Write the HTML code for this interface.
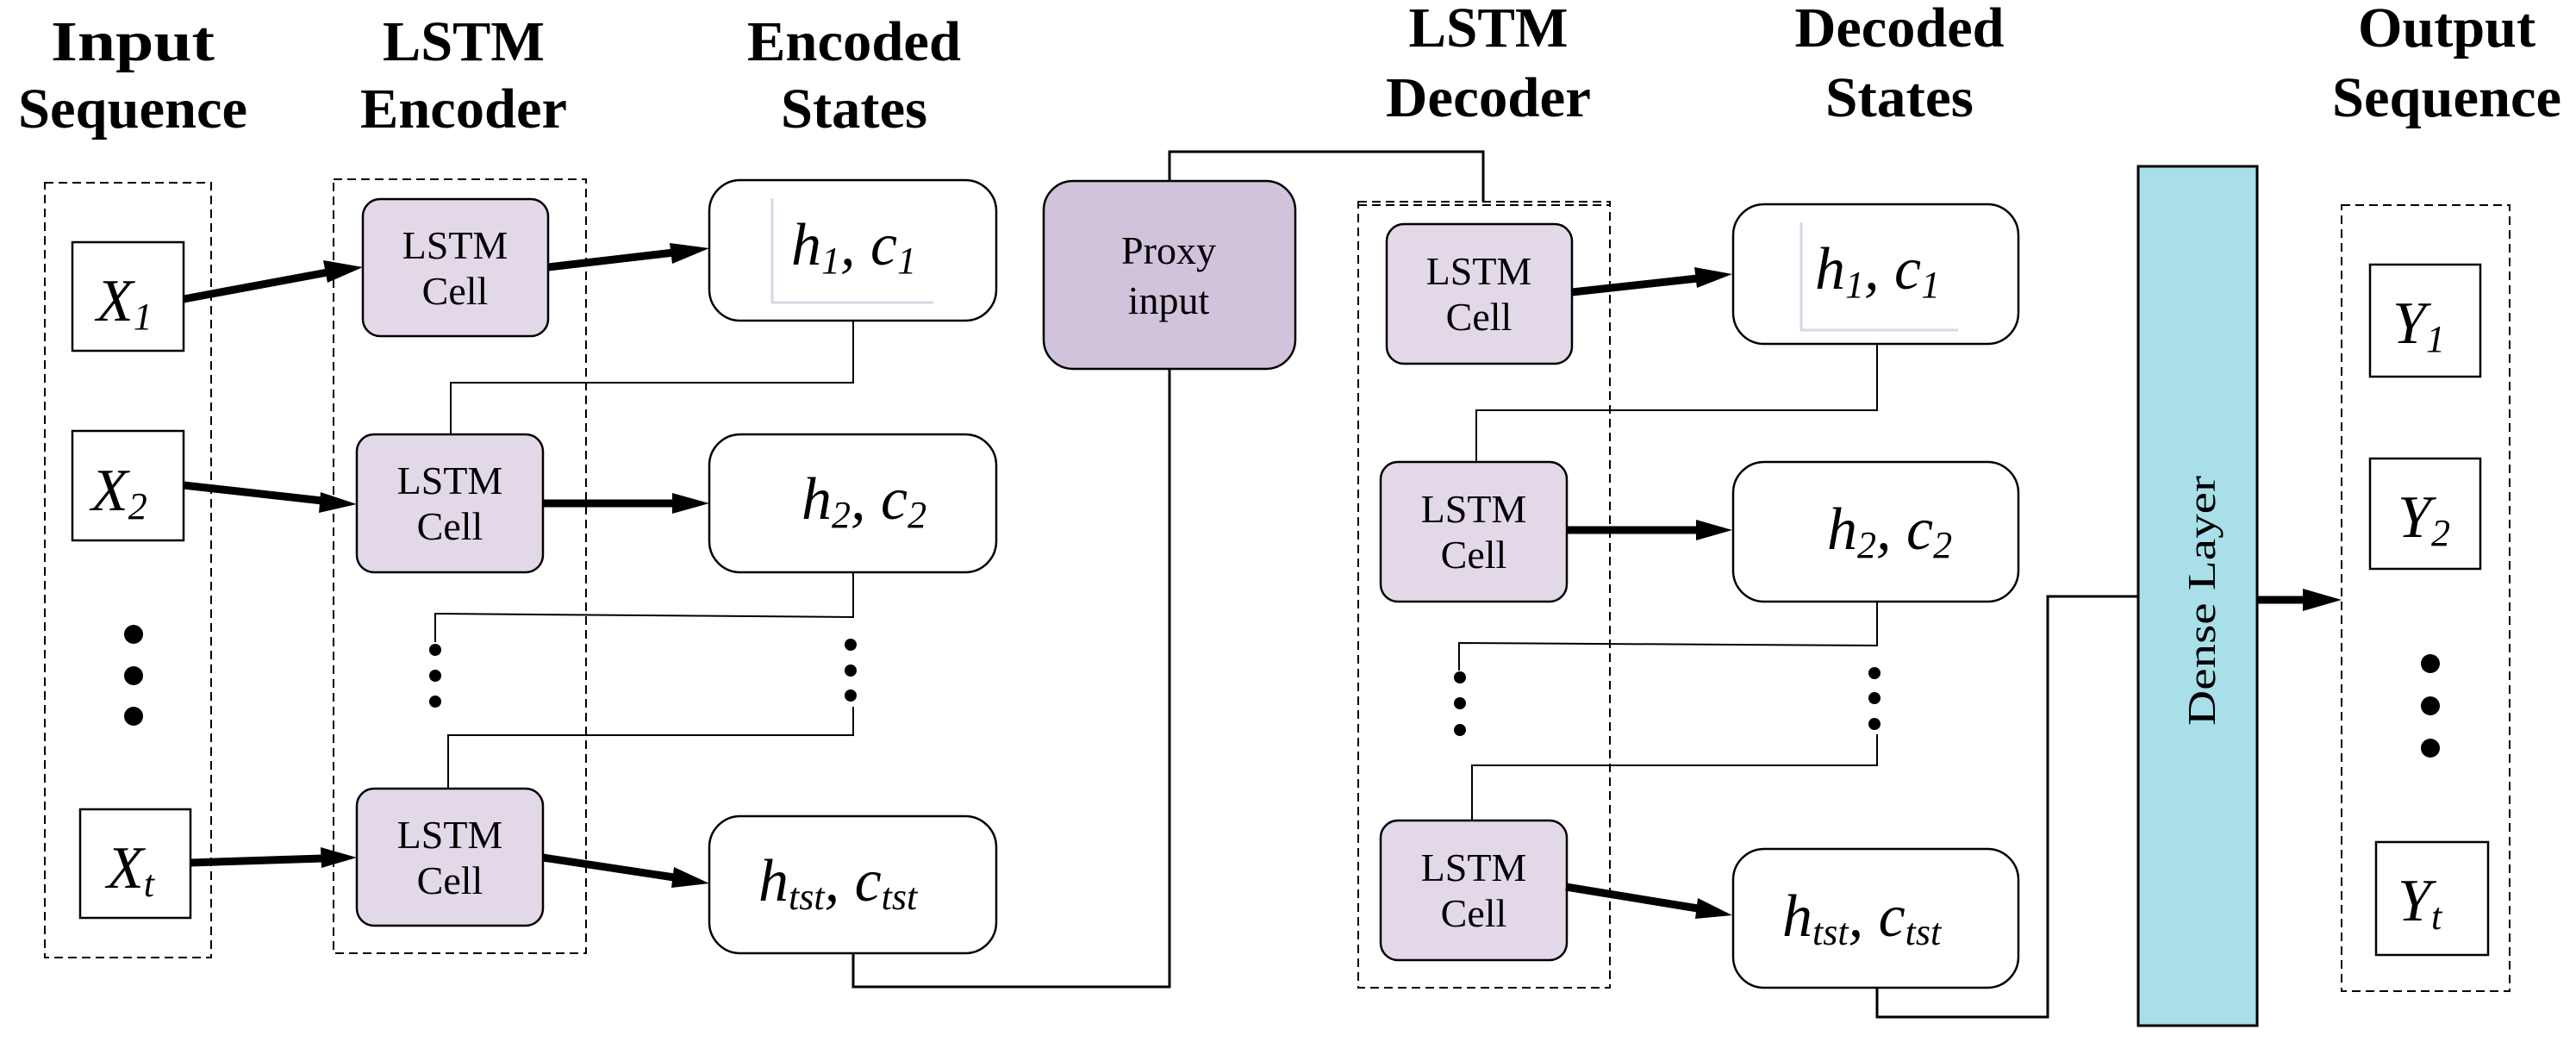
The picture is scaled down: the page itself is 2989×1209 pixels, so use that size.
<!DOCTYPE html>
<html><head><meta charset="utf-8"><style>
html,body{margin:0;padding:0;background:#fff;}
svg{display:block;}
text{font-family:"Liberation Serif","DejaVu Serif",serif;}
.t{font-weight:bold;font-size:66px;text-anchor:middle;}
.c{font-size:46px;text-anchor:middle;}
.m{font-style:italic;font-size:70px;}
.s{font-size:44px;}
</style></head><body>
<svg width="2989" height="1209" viewBox="0 0 2989 1209" xmlns="http://www.w3.org/2000/svg" font-family="'Liberation Serif', serif">
<g font-family="'Liberation Serif', serif" font-weight="bold" font-size="66" text-anchor="middle">
<text class="t" x="154" y="70" textLength="190" lengthAdjust="spacingAndGlyphs">Input</text>
<text class="t" x="154" y="148" textLength="266" lengthAdjust="spacingAndGlyphs">Sequence</text>
<text class="t" x="538" y="70" textLength="188" lengthAdjust="spacingAndGlyphs">LSTM</text>
<text class="t" x="538" y="148" textLength="240" lengthAdjust="spacingAndGlyphs">Encoder</text>
<text class="t" x="991" y="70" textLength="248" lengthAdjust="spacingAndGlyphs">Encoded</text>
<text class="t" x="991" y="148" textLength="170" lengthAdjust="spacingAndGlyphs">States</text>
<text class="t" x="1727" y="54" textLength="185" lengthAdjust="spacingAndGlyphs">LSTM</text>
<text class="t" x="1727" y="135" textLength="238" lengthAdjust="spacingAndGlyphs">Decoder</text>
<text class="t" x="2204" y="54" textLength="243" lengthAdjust="spacingAndGlyphs">Decoded</text>
<text class="t" x="2204" y="135" textLength="172" lengthAdjust="spacingAndGlyphs">States</text>
<text class="t" x="2839" y="54" textLength="206" lengthAdjust="spacingAndGlyphs">Output</text>
<text class="t" x="2839" y="135" textLength="266" lengthAdjust="spacingAndGlyphs">Sequence</text>
</g>

<g fill="none" stroke="#000" stroke-width="2" stroke-dasharray="10,6">
<rect x="52" y="212" width="193" height="899"/>
<rect x="387" y="208" width="293" height="898"/>
<rect x="1576" y="234" width="292" height="912"/>
<line x1="1576" y1="238" x2="1868" y2="238"/>
<rect x="2717" y="238" width="195" height="912"/>
</g>

<g fill="#fff" stroke="#000" stroke-width="2.5">
<rect x="84" y="281" width="129" height="126"/>
<rect x="84" y="500" width="129" height="127"/>
<rect x="93" y="939" width="128" height="126"/>
<rect x="2750" y="307" width="128" height="130"/>
<rect x="2750" y="532" width="128" height="128"/>
<rect x="2757" y="977" width="130" height="131"/>
</g>
<g font-family="'Liberation Serif', serif" font-style="italic" font-size="70">
<text class="m" x="112" y="372">X<tspan class="s" font-size="44" dy="10">1</tspan></text>
<text class="m" x="106" y="592">X<tspan class="s" font-size="44" dy="10">2</tspan></text>
<text class="m" x="124" y="1030">X<tspan class="s" font-size="44" dy="10">t</tspan></text>
<text class="m" x="2776" y="398">Y<tspan class="s" font-size="44" dy="10">1</tspan></text>
<text class="m" x="2782" y="623">Y<tspan class="s" font-size="44" dy="10">2</tspan></text>
<text class="m" x="2782" y="1068">Y<tspan class="s" font-size="44" dy="10">t</tspan></text>
</g>

<g fill="#000">
<circle cx="155" cy="736" r="11"/><circle cx="155" cy="784" r="11"/><circle cx="155" cy="831" r="11"/>
<circle cx="2820" cy="770" r="11"/><circle cx="2820" cy="819" r="11"/><circle cx="2820" cy="868" r="11"/>
<circle cx="505" cy="754" r="7"/><circle cx="505" cy="784" r="7"/><circle cx="505" cy="814" r="7"/>
<circle cx="987" cy="748" r="7"/><circle cx="987" cy="778" r="7"/><circle cx="987" cy="807" r="7"/>
<circle cx="1694" cy="786" r="7"/><circle cx="1694" cy="816" r="7"/><circle cx="1694" cy="847" r="7"/>
<circle cx="2175" cy="781" r="7"/><circle cx="2175" cy="810" r="7"/><circle cx="2175" cy="840" r="7"/>
</g>

<g fill="none" stroke="#000" stroke-width="2">
<polyline points="990,369 990,444 523,444 523,504"/>
<polyline points="990,664 990,716 505,712 505,745"/>
<polyline points="990,820 990,853 520,853 520,915"/>
<polyline points="2178,399 2178,476 1713,476 1713,536"/>
<polyline points="2178,698 2178,749 1693,746 1693,778"/>
<polyline points="2178,852 2178,888 1708,888 1708,952"/>
</g>
<g fill="none" stroke="#000" stroke-width="3">
<polyline points="990,1106 990,1145 1357,1145 1357,428"/>
<polyline points="1357,210 1357,176 1721,176 1721,234"/>
<polyline points="2178,1146 2178,1180 2376,1180 2376,692 2481,692"/>
</g>

<g fill="#e2d8e8" stroke="#000" stroke-width="2.5">
<rect x="421" y="231" width="215" height="159" rx="20"/>
<rect x="414" y="504" width="216" height="160" rx="20"/>
<rect x="414" y="915" width="216" height="159" rx="20"/>
<rect x="1609" y="260" width="215" height="162" rx="20"/>
<rect x="1602" y="536" width="216" height="162" rx="20"/>
<rect x="1602" y="952" width="216" height="162" rx="20"/>
</g>
<rect x="1211" y="210" width="292" height="218" rx="34" fill="#d1c3dc" stroke="#000" stroke-width="2.5"/>
<g font-family="'Liberation Serif', serif" font-size="46" text-anchor="middle">
<text class="c" x="1356" y="306">Proxy</text>
<text class="c" x="1356" y="364">input</text>
<text class="c" x="528" y="300">LSTM</text><text class="c" x="528" y="353">Cell</text>
<text class="c" x="522" y="573">LSTM</text><text class="c" x="522" y="626">Cell</text>
<text class="c" x="522" y="984">LSTM</text><text class="c" x="522" y="1037">Cell</text>
<text class="c" x="1716" y="330">LSTM</text><text class="c" x="1716" y="383">Cell</text>
<text class="c" x="1710" y="606">LSTM</text><text class="c" x="1710" y="659">Cell</text>
<text class="c" x="1710" y="1022">LSTM</text><text class="c" x="1710" y="1075">Cell</text>
</g>

<g fill="#fff" stroke="#000" stroke-width="2.5">
<rect x="823" y="209" width="333" height="163" rx="36"/>
<rect x="823" y="504" width="333" height="160" rx="36"/>
<rect x="823" y="947" width="333" height="159" rx="36"/>
<rect x="2011" y="237" width="331" height="162" rx="36"/>
<rect x="2011" y="536" width="331" height="162" rx="36"/>
<rect x="2011" y="985" width="331" height="161" rx="36"/>
</g>
<polyline points="896,230 896,351 1083,351" fill="none" stroke="#ddd5e5" stroke-width="3"/>
<polyline points="2090,258 2090,383 2272,383" fill="none" stroke="#ddd5e5" stroke-width="3"/>
<g font-family="'Liberation Serif', serif" font-style="italic" font-size="70">
<text class="m" x="918" y="307">h<tspan class="s" font-size="44" dy="10">1</tspan><tspan dy="-10">, c</tspan><tspan class="s" font-size="44" dy="10">1</tspan></text>
<text class="m" x="930" y="602">h<tspan class="s" font-size="44" dy="10">2</tspan><tspan dy="-10">, c</tspan><tspan class="s" font-size="44" dy="10">2</tspan></text>
<text class="m" x="880" y="1045">h<tspan class="s" font-size="44" dy="10">tst</tspan><tspan dy="-10">, c</tspan><tspan class="s" font-size="44" dy="10">tst</tspan></text>
<text class="m" x="2106" y="335">h<tspan class="s" font-size="44" dy="10">1</tspan><tspan dy="-10">, c</tspan><tspan class="s" font-size="44" dy="10">1</tspan></text>
<text class="m" x="2120" y="637">h<tspan class="s" font-size="44" dy="10">2</tspan><tspan dy="-10">, c</tspan><tspan class="s" font-size="44" dy="10">2</tspan></text>
<text class="m" x="2068" y="1086">h<tspan class="s" font-size="44" dy="10">tst</tspan><tspan dy="-10">, c</tspan><tspan class="s" font-size="44" dy="10">tst</tspan></text>
</g>

<rect x="2481" y="193" width="138" height="997" fill="#a8dfe9" stroke="#000" stroke-width="3"/>
<text class="c" font-family="'Liberation Serif', serif" font-size="60" text-anchor="middle" textLength="290" lengthAdjust="spacingAndGlyphs" transform="translate(2570,697) rotate(-90)">Dense Layer</text>

<g stroke="#000" stroke-width="9" fill="none">
<line x1="213" y1="347" x2="380" y2="316"/>
<line x1="636" y1="310" x2="782" y2="293"/>
<line x1="213" y1="563" x2="374" y2="581"/>
<line x1="630" y1="584" x2="782" y2="584"/>
<line x1="221" y1="1001" x2="374" y2="996"/>
<line x1="630" y1="995" x2="782" y2="1018"/>
<line x1="1824" y1="339" x2="1970" y2="323"/>
<line x1="1817" y1="615" x2="1970" y2="615"/>
<line x1="1817" y1="1029" x2="1970" y2="1054"/>
<line x1="2619" y1="696" x2="2676" y2="696"/>
</g>
<g fill="#000">
<polygon points="421,310 375,302 380,328"/>
<polygon points="823,288 777,282 780,306"/>
<polygon points="414,585 372,571 370,595"/>
<polygon points="823,584 780,572 780,596"/>
<polygon points="414,995 372,983 373,1007"/>
<polygon points="823,1025 782,1006 779,1030"/>
<polygon points="2010,318 1966,310 1969,334"/>
<polygon points="2010,615 1968,603 1968,627"/>
<polygon points="2010,1062 1970,1042 1967,1066"/>
<polygon points="2717,696 2672,683 2672,709"/>
</g>
</svg>
</body></html>
